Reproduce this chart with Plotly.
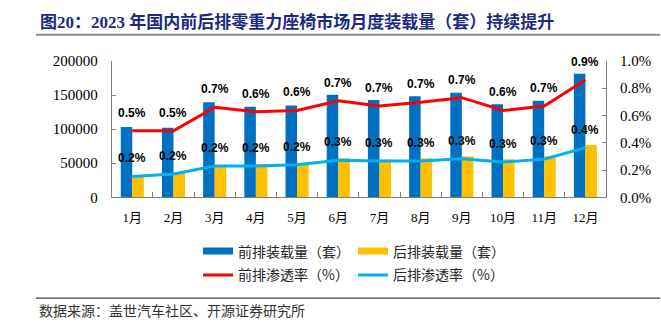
import plotly.graph_objects as go

months = ["1月", "2月", "3月", "4月", "5月", "6月", "7月", "8月", "9月", "10月", "11月", "12月"]
front_volume = [103000, 102000, 139400, 132900, 134700, 150600, 142600, 148200, 153400, 136600, 141700, 181400]
rear_volume = [30300, 35900, 46200, 49000, 48500, 57300, 55500, 57300, 60100, 55900, 60100, 76900]
front_rate = [0.488, 0.488, 0.660, 0.627, 0.637, 0.708, 0.669, 0.697, 0.731, 0.637, 0.669, 0.861]  # %
rear_rate = [0.153, 0.171, 0.229, 0.229, 0.238, 0.271, 0.266, 0.266, 0.282, 0.259, 0.280, 0.363]  # %

names = ["前排装载量（套）", "后排装载量（套）", "前排渗透率（%）", "后排渗透率（%）"]
c_front_bar = "#0070C0"
c_rear_bar = "#FFC000"
c_front_line = "#FF0000"
c_rear_line = "#00B0F0"

W, H = 661, 328
x0, x1 = 111.7, 606.0
ytop, ybot = 55.7, 199.0

serif = "Liberation Serif, Times New Roman, Noto Sans CJK SC, serif"
cjk = "Noto Sans CJK SC, sans-serif"

fig = go.Figure()
fig.add_trace(go.Bar(x=months, y=front_volume, name=names[0], marker=dict(color=c_front_bar, line=dict(width=0)), showlegend=False))
fig.add_trace(go.Bar(x=months, y=rear_volume, name=names[1], marker=dict(color=c_rear_bar, line=dict(width=0)), showlegend=False))
fig.add_trace(go.Scatter(x=months, y=front_rate, name=names[2], mode="lines", line=dict(color=c_front_line, width=3), yaxis="y2", showlegend=False))
fig.add_trace(go.Scatter(x=months, y=rear_rate, name=names[3], mode="lines", line=dict(color=c_rear_line, width=3), yaxis="y2", showlegend=False))

# legend entries (legend-only swatches styled like the reference)
fig.add_trace(go.Scatter(x=[None], y=[None], mode="lines", name=names[0], line=dict(color=c_front_bar, width=7), legend="legend"))
fig.add_trace(go.Scatter(x=[None], y=[None], mode="lines", name=names[1], line=dict(color=c_rear_bar, width=7), legend="legend"))
fig.add_trace(go.Scatter(x=[None], y=[None], mode="lines", name=names[2], line=dict(color=c_front_line, width=3), legend="legend2"))
fig.add_trace(go.Scatter(x=[None], y=[None], mode="lines", name=names[3], line=dict(color=c_rear_line, width=3), legend="legend2"))

label_font = dict(family="Liberation Sans, Arial, sans-serif", size=12, color="#000000")
annotations = []
for series in (front_rate, rear_rate):
    for m, v in zip(months, series):
        annotations.append(dict(x=m, y=v, xref="x", yref="y2", text=f"<b>{v:.1f}%</b>", showarrow=False,
                                yshift=18, font=label_font))

annotations.append(dict(x=38 / W, y=1 - 15 / H, xref="paper", yref="paper", xanchor="left", yanchor="middle",
                        text="<b>图20：2023 年国内前后排零重力座椅市场月度装载量（套）持续提升</b>", showarrow=False,
                        font=dict(family="Liberation Serif, Noto Sans CJK SC, serif", size=17, color="#1B2A80")))
annotations.append(dict(x=37 / W, y=1 - 317 / H, xref="paper", yref="paper", xanchor="left", yanchor="middle",
                        text="数据来源：盖世汽车社区、开源证券研究所", showarrow=False,
                        font=dict(family=cjk, size=14, color="#333333")))

shapes = [
    dict(type="line", xref="paper", yref="paper", x0=36 / W, x1=660 / W, y0=1 - 28 / H, y1=1 - 28 / H,
         line=dict(color="#8C8C8C", width=2)),
    dict(type="line", xref="paper", yref="paper", x0=36 / W, x1=660 / W, y0=1 - 305 / H, y1=1 - 305 / H,
         line=dict(color="#404040", width=1.2)),
]

axis_color = "#7F7F7F"
fig.update_layout(
    width=W, height=H,
    margin=dict(l=0, r=0, t=0, b=0),
    paper_bgcolor="white", plot_bgcolor="white",
    barmode="group", bargap=0.44, bargroupgap=0,
    xaxis=dict(domain=[x0 / W, x1 / W], type="category", showline=True, linecolor=axis_color, linewidth=1,
               ticks="inside", tickson="boundaries", ticklen=5, tickcolor=axis_color,
               tickfont=dict(family=serif, size=13, color="#000000"), showgrid=False, zeroline=False,
               ticklabelstandoff=8),
    yaxis=dict(domain=[1 - ybot / H, 1 - ytop / H], range=[0, 200000], dtick=50000, showline=True,
               linecolor=axis_color, linewidth=1, ticks="inside", ticklen=4, tickcolor=axis_color,
               tickfont=dict(family=serif, size=15, color="#000000"), showgrid=False, zeroline=False,
               tickformat="d", ticklabelstandoff=10),
    yaxis2=dict(overlaying="y", side="right", range=[0, 1.0], dtick=0.2, tickformat=".1f", ticksuffix="%",
                showline=True, linecolor=axis_color, linewidth=1, ticks="inside", ticklen=4, tickcolor=axis_color,
                tickfont=dict(family=serif, size=15, color="#000000"), showgrid=False, zeroline=False,
                ticklabelstandoff=10),
    legend=dict(orientation="h", x=198 / W, xanchor="left", y=1 - 256 / H, yanchor="middle",
                entrywidth=110, font=dict(family=cjk, size=14, color="#262626"), bgcolor="rgba(0,0,0,0)",
                itemwidth=30),
    legend2=dict(orientation="h", x=198 / W, xanchor="left", y=1 - 281 / H, yanchor="middle",
                 entrywidth=110, font=dict(family=cjk, size=14, color="#262626"), bgcolor="rgba(0,0,0,0)",
                 itemwidth=30),
    annotations=annotations,
    shapes=shapes,
    showlegend=True,
)

fig.write_html("out.html")
